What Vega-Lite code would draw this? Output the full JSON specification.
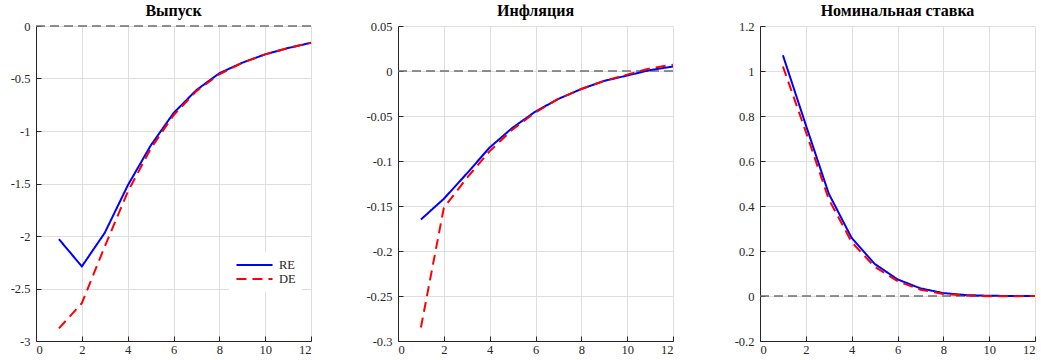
{
  "$schema": "https://vega.github.io/schema/vega-lite/v6.json",
  "padding": {"left": 10, "top": 3, "right": 5, "bottom": 0},
  "background": "white",
  "bounds": "flush",
  "spacing": 87,
  "datasets": {
    "vy": [
      {"x": 1, "series": "RE", "value": -2.03}, {"x": 2, "series": "RE", "value": -2.29}, {"x": 3, "series": "RE", "value": -1.97}, {"x": 4, "series": "RE", "value": -1.52}, {"x": 5, "series": "RE", "value": -1.14}, {"x": 6, "series": "RE", "value": -0.83}, {"x": 7, "series": "RE", "value": -0.61}, {"x": 8, "series": "RE", "value": -0.45}, {"x": 9, "series": "RE", "value": -0.35}, {"x": 10, "series": "RE", "value": -0.27}, {"x": 11, "series": "RE", "value": -0.21}, {"x": 12, "series": "RE", "value": -0.16},
      {"x": 1, "series": "DE", "value": -2.88}, {"x": 2, "series": "DE", "value": -2.64}, {"x": 3, "series": "DE", "value": -2.1}, {"x": 4, "series": "DE", "value": -1.58}, {"x": 5, "series": "DE", "value": -1.17}, {"x": 6, "series": "DE", "value": -0.85}, {"x": 7, "series": "DE", "value": -0.62}, {"x": 8, "series": "DE", "value": -0.46}, {"x": 9, "series": "DE", "value": -0.35}, {"x": 10, "series": "DE", "value": -0.27}, {"x": 11, "series": "DE", "value": -0.21}, {"x": 12, "series": "DE", "value": -0.16}
    ],
    "pi": [
      {"x": 1, "series": "RE", "value": -0.165}, {"x": 2, "series": "RE", "value": -0.142}, {"x": 3, "series": "RE", "value": -0.114}, {"x": 4, "series": "RE", "value": -0.085}, {"x": 5, "series": "RE", "value": -0.063}, {"x": 6, "series": "RE", "value": -0.045}, {"x": 7, "series": "RE", "value": -0.031}, {"x": 8, "series": "RE", "value": -0.02}, {"x": 9, "series": "RE", "value": -0.011}, {"x": 10, "series": "RE", "value": -0.005}, {"x": 11, "series": "RE", "value": 0.001}, {"x": 12, "series": "RE", "value": 0.005},
      {"x": 1, "series": "DE", "value": -0.285}, {"x": 2, "series": "DE", "value": -0.152}, {"x": 3, "series": "DE", "value": -0.119}, {"x": 4, "series": "DE", "value": -0.089}, {"x": 5, "series": "DE", "value": -0.065}, {"x": 6, "series": "DE", "value": -0.046}, {"x": 7, "series": "DE", "value": -0.031}, {"x": 8, "series": "DE", "value": -0.02}, {"x": 9, "series": "DE", "value": -0.011}, {"x": 10, "series": "DE", "value": -0.004}, {"x": 11, "series": "DE", "value": 0.003}, {"x": 12, "series": "DE", "value": 0.007}
    ],
    "ir": [
      {"x": 1, "series": "RE", "value": 1.07}, {"x": 2, "series": "RE", "value": 0.76}, {"x": 3, "series": "RE", "value": 0.455}, {"x": 4, "series": "RE", "value": 0.258}, {"x": 5, "series": "RE", "value": 0.143}, {"x": 6, "series": "RE", "value": 0.074}, {"x": 7, "series": "RE", "value": 0.034}, {"x": 8, "series": "RE", "value": 0.013}, {"x": 9, "series": "RE", "value": 0.004}, {"x": 10, "series": "RE", "value": 0.001}, {"x": 11, "series": "RE", "value": 0.0}, {"x": 12, "series": "RE", "value": 0.0},
      {"x": 1, "series": "DE", "value": 1.02}, {"x": 2, "series": "DE", "value": 0.73}, {"x": 3, "series": "DE", "value": 0.43}, {"x": 4, "series": "DE", "value": 0.24}, {"x": 5, "series": "DE", "value": 0.13}, {"x": 6, "series": "DE", "value": 0.066}, {"x": 7, "series": "DE", "value": 0.028}, {"x": 8, "series": "DE", "value": 0.009}, {"x": 9, "series": "DE", "value": 0.002}, {"x": 10, "series": "DE", "value": -0.001}, {"x": 11, "series": "DE", "value": -0.001}, {"x": 12, "series": "DE", "value": 0.0}
    ],
    "zero": [{"z": 0}]
  },
  "config": {
    "font": "Liberation Serif",
    "view": {"stroke": null},
    "title": {"fontSize": 16, "fontWeight": "bold", "color": "black", "offset": 0, "dy": 3, "font": "Liberation Serif, serif"},
    "axis": {
      "domainColor": "#262626",
      "domainWidth": 1,
      "tickColor": "#262626",
      "tickSize": -5,
      "gridColor": "#dedede",
      "gridWidth": 1,
      "labelFont": "Liberation Serif, serif",
      "labelFontSize": 12.5,
      "labelColor": "#262626",
      "title": null,
      "labelPadding": 11
    },
    "axisX": {"labelPadding": 7},
    "legend": {
      "labelFont": "Liberation Serif, serif",
      "labelFontSize": 12.5,
      "labelColor": "#262626"
    }
  },
  "resolve": {"scale": {"color": "independent", "strokeDash": "independent", "x": "independent", "y": "independent"}, "legend": {"color": "independent", "strokeDash": "independent"}},
  "hconcat": [
    {
      "title": "Выпуск",
      "width": 275,
      "height": 315,
      "layer": [
        {
          "data": {"name": "zero"},
          "mark": {"type": "rule", "color": "#6e6e6e", "strokeWidth": 1.5, "strokeDash": [9, 5]},
          "encoding": {"y": {"field": "z", "type": "quantitative", "scale": {"domain": [-3, 0]}}}
        },
        {
          "data": {"name": "vy"},
          "mark": {"type": "line", "strokeWidth": 2},
          "encoding": {
            "x": {"field": "x", "type": "quantitative", "scale": {"domain": [0, 12], "nice": false}, "axis": {"values": [0, 2, 4, 6, 8, 10, 12], "grid": true}},
            "y": {"field": "value", "type": "quantitative", "scale": {"domain": [-3, 0], "nice": false, "zero": false}, "axis": {"values": [-3, -2.5, -2, -1.5, -1, -0.5, 0], "grid": true, "labelExpr": "replace(format(datum.value, '.6~g'), '\u2212', '-')"}},
            "color": {"field": "series", "type": "nominal", "scale": {"domain": ["RE", "DE"], "range": ["#0000ff", "#ff0000"]}, "legend": {"title": null, "orient": "none", "legendX": 193, "legendY": 226, "fillColor": "white", "padding": 6, "symbolType": "stroke", "symbolSize": 1300, "symbolStrokeWidth": 2, "labelOffset": 5, "rowPadding": 0, "clipHeight": 14}},
            "strokeDash": {"field": "series", "type": "nominal", "scale": {"domain": ["RE", "DE"], "range": [[1, 0], [10, 6]]}, "legend": {"title": null, "orient": "none", "legendX": 193, "legendY": 226}},
            "order": {"field": "x", "type": "quantitative"}
          }
        }
      ]
    },
    {
      "title": "Инфляция",
      "width": 275,
      "height": 315,
      "layer": [
        {
          "data": {"name": "zero"},
          "mark": {"type": "rule", "color": "#6e6e6e", "strokeWidth": 1.5, "strokeDash": [9, 5]},
          "encoding": {"y": {"field": "z", "type": "quantitative", "scale": {"domain": [-0.3, 0.05]}}}
        },
        {
          "data": {"name": "pi"},
          "mark": {"type": "line", "strokeWidth": 2},
          "encoding": {
            "x": {"field": "x", "type": "quantitative", "scale": {"domain": [0, 12], "nice": false}, "axis": {"values": [0, 2, 4, 6, 8, 10, 12], "grid": true}},
            "y": {"field": "value", "type": "quantitative", "scale": {"domain": [-0.3, 0.05], "nice": false, "zero": false}, "axis": {"values": [-0.3, -0.25, -0.2, -0.15, -0.1, -0.05, 0, 0.05], "grid": true, "labelExpr": "replace(format(datum.value, '.6~g'), '\u2212', '-')"}},
            "color": {"field": "series", "type": "nominal", "scale": {"domain": ["RE", "DE"], "range": ["#0000ff", "#ff0000"]}, "legend": null},
            "strokeDash": {"field": "series", "type": "nominal", "scale": {"domain": ["RE", "DE"], "range": [[1, 0], [10, 6]]}, "legend": null},
            "order": {"field": "x", "type": "quantitative"}
          }
        }
      ]
    },
    {
      "title": "Номинальная ставка",
      "width": 275,
      "height": 315,
      "layer": [
        {
          "data": {"name": "zero"},
          "mark": {"type": "rule", "color": "#6e6e6e", "strokeWidth": 1.5, "strokeDash": [9, 5]},
          "encoding": {"y": {"field": "z", "type": "quantitative", "scale": {"domain": [-0.2, 1.2]}}}
        },
        {
          "data": {"name": "ir"},
          "mark": {"type": "line", "strokeWidth": 2},
          "encoding": {
            "x": {"field": "x", "type": "quantitative", "scale": {"domain": [0, 12], "nice": false}, "axis": {"values": [0, 2, 4, 6, 8, 10, 12], "grid": true}},
            "y": {"field": "value", "type": "quantitative", "scale": {"domain": [-0.2, 1.2], "nice": false, "zero": false}, "axis": {"values": [-0.2, 0, 0.2, 0.4, 0.6, 0.8, 1, 1.2], "grid": true, "labelExpr": "replace(format(datum.value, '.6~g'), '\u2212', '-')"}},
            "color": {"field": "series", "type": "nominal", "scale": {"domain": ["RE", "DE"], "range": ["#0000ff", "#ff0000"]}, "legend": null},
            "strokeDash": {"field": "series", "type": "nominal", "scale": {"domain": ["RE", "DE"], "range": [[1, 0], [10, 6]]}, "legend": null},
            "order": {"field": "x", "type": "quantitative"}
          }
        }
      ]
    }
  ]
}
